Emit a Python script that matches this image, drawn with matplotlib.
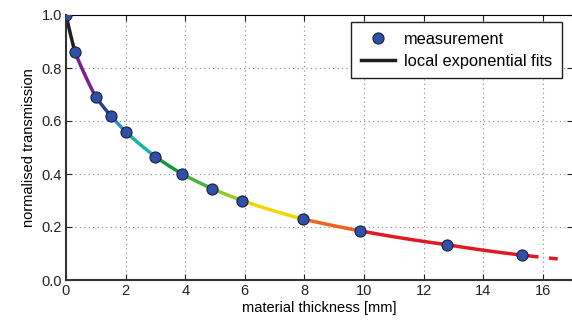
import numpy as np
import matplotlib
matplotlib.use("Agg")
import matplotlib.pyplot as plt

plt.rcParams['font.family'] = ['Liberation Sans', 'DejaVu Sans']

# measurements
thickness = [0.0, 0.3, 1.0, 1.5, 2.0, 3.0, 3.9, 4.9, 5.9, 7.95, 9.85, 12.8, 15.3]
transmission = [1.0, 0.86, 0.69, 0.62, 0.56, 0.465, 0.40, 0.345, 0.30, 0.23, 0.186, 0.133, 0.094]
segment_colors = ['#1e1e1e', '#7a1f8f', '#2a3f96', '#2f8fc8', '#1fb0a8', '#129a3c',
                  '#4cb140', '#98c82a', '#f2d600', '#f06020', '#e01a22', '#e01a22']
extrap_end = 16.5
xticks = [0, 2, 4, 6, 8, 10, 12, 14, 16]
yticks = [0.0, 0.2, 0.4, 0.6, 0.8, 1.0]

fig = plt.figure(figsize=(5.72, 3.24), dpi=100)
ax = fig.add_axes([66/572, 44/324, 506.6/572, 265/324])

# local exponential fits between consecutive measurements
for i in range(len(thickness) - 1):
    x1, x2 = thickness[i], thickness[i+1]
    y1, y2 = transmission[i], transmission[i+1]
    mu = np.log(y1 / y2) / (x2 - x1)
    xs = np.linspace(x1, x2, 50)
    ax.plot(xs, y1 * np.exp(-mu * (xs - x1)), color=segment_colors[i], lw=2.5,
            solid_capstyle='butt', zorder=2)
# extrapolation of last fit (dashed)
x1, x2 = thickness[-2], thickness[-1]
y1, y2 = transmission[-2], transmission[-1]
mu = np.log(y1 / y2) / (x2 - x1)
xs = np.linspace(x2, extrap_end, 30)
ax.plot(xs, y2 * np.exp(-mu * (xs - x2)), color=segment_colors[-1], lw=2.5,
        dashes=(4.8, 3.0), dash_capstyle='butt', zorder=2)

ax.plot(thickness, transmission, 'o', ms=8, mfc='#3050a8', mec='#1a2040', mew=0.8,
        zorder=3, label='measurement')
ax.plot([], [], color='#1e1e1e', lw=2.5, label='local exponential fits')

ax.set_xlim(0, 17)
ax.set_ylim(0, 1.0)
ax.set_xticks(xticks)
ax.set_yticks(yticks)
ax.set_yticklabels([f'{v:.1f}' for v in yticks])
ax.grid(True, linestyle=(0, (1, 3)), color='#888888', lw=0.8)
ax.tick_params(direction='in', top=True, right=True, length=4, labelsize=10.5, pad=3,
               colors='#222222')
for s in ['left', 'bottom']:
    ax.spines[s].set_linewidth(1.5)
    ax.spines[s].set_color('#333333')
for s in ['top', 'right']:
    ax.spines[s].set_linewidth(0.8)
ax.set_xlabel('material thickness [mm]', fontsize=10.5, labelpad=2)
ax.set_ylabel('normalised transmission', fontsize=10.5, labelpad=4)

leg = ax.legend(loc='upper right', bbox_to_anchor=(0.979, 0.974), fontsize=11.8, frameon=True,
                fancybox=False, edgecolor='#222222', framealpha=1, numpoints=1,
                handlelength=2.1, handletextpad=0.55, borderpad=0.6, labelspacing=0.42,
                borderaxespad=0)
leg.get_frame().set_linewidth(1.0)

fig.savefig('out.png', dpi=100)
